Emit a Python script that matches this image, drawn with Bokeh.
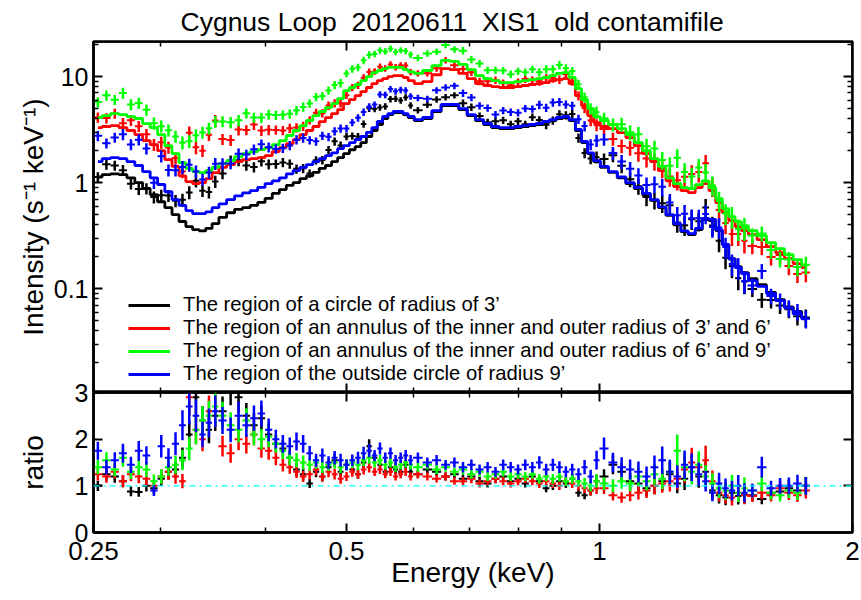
import numpy as np
from bokeh.plotting import figure
from bokeh.models import (FixedTicker, LogAxis, LinearAxis, Range1d, Span, Legend,
                          LegendItem, CustomJSTickFormatter, CustomLabelingPolicy)
from bokeh.layouts import column
from bokeh.embed import file_html
from bokeh.resources import INLINE

# ---------------- data ----------------
# energy bin edges (keV)
edges = [0.250, 0.256, 0.262, 0.268, 0.274, 0.280, 0.286, 0.292, 0.298, 0.304, 0.310, 0.316,
         0.322, 0.328, 0.334, 0.340, 0.346, 0.352,
         0.360, 0.368, 0.376, 0.384, 0.392, 0.400, 0.408, 0.416, 0.424, 0.432, 0.440, 0.448,
         0.456, 0.464, 0.472, 0.480, 0.488, 0.496, 0.504, 0.512, 0.520, 0.528, 0.536, 0.544,
         0.552, 0.560, 0.568, 0.576, 0.584, 0.592, 0.600,
         0.616, 0.632, 0.648, 0.664, 0.680, 0.696, 0.712, 0.728, 0.744, 0.760, 0.776, 0.792,
         0.808, 0.824, 0.840, 0.856, 0.872, 0.888, 0.904, 0.920, 0.936, 0.952, 0.968, 0.984, 1.000,
         1.025, 1.050, 1.075, 1.100, 1.125, 1.150, 1.175, 1.200, 1.225, 1.250, 1.275, 1.300,
         1.325, 1.350, 1.375, 1.400, 1.425, 1.450, 1.475, 1.500,
         1.54, 1.58, 1.62, 1.66, 1.70, 1.74, 1.78]

# model intensity (s^-1 keV^-1) per bin
model_black = [1.13, 1.19, 1.21, 1.19, 1.11, 1.00, 0.88, 0.77, 0.66, 0.58, 0.50, 0.43, 0.385, 0.36, 0.35, 0.37, 0.41,
               0.47, 0.52, 0.56, 0.58, 0.61, 0.65, 0.71, 0.79, 0.86, 0.94, 1.00, 1.09, 1.16, 1.25, 1.36, 1.45,
               1.58, 1.72, 1.88, 2.04, 2.18, 2.38, 2.72, 3.10, 3.53, 4.02, 4.38, 4.58, 4.58, 4.38, 4.11,
               3.85, 4.02, 4.68, 5.33, 5.33, 4.88, 4.29, 3.85, 3.53, 3.30, 3.23, 3.23, 3.30, 3.38, 3.45,
               3.53, 3.69, 3.85, 4.02, 4.11, 3.85, 3.10, 2.38, 1.88, 1.58,
               1.39, 1.25, 1.11, 0.98, 0.88, 0.77, 0.68, 0.58, 0.49, 0.40, 0.345, 0.323, 0.36, 0.448,
               0.438, 0.353, 0.261, 0.192, 0.161, 0.142,
               0.124, 0.109, 0.092, 0.079, 0.0675, 0.061, 0.0536]
model_red = [3.30, 3.38, 3.45, 3.30, 3.10, 2.84, 2.49, 2.28, 2.00, 1.65, 1.42, 1.16, 1.02, 0.98, 1.00, 1.09, 1.24,
             1.39, 1.48, 1.58, 1.65, 1.68, 1.72, 1.80, 1.96, 2.14, 2.33, 2.54, 2.84, 3.10, 3.38, 3.76, 4.10,
             4.48, 4.88, 5.56, 6.07, 6.62, 7.22, 7.88, 8.59, 9.17, 9.57, 10.0, 10.2, 10.2, 9.79, 9.17,
             8.59, 8.97, 10.4, 11.9, 11.6, 10.7, 9.57, 8.59, 8.23, 8.05, 7.88, 7.88, 8.05, 8.23, 8.41,
             8.59, 8.78, 9.17, 9.37, 9.57, 8.59, 6.62, 5.33, 4.29, 3.68,
             3.38, 3.23, 2.96, 2.66, 2.23, 1.88, 1.58, 1.30, 1.04, 0.917, 0.84, 0.805, 0.897, 0.98,
             0.84, 0.648, 0.521, 0.438, 0.385, 0.353,
             0.323, 0.290, 0.249, 0.219, 0.192, 0.172, 0.158]
model_green = [4.10, 4.29, 4.48, 4.38, 4.19, 4.02, 3.60, 3.30, 2.84, 2.23, 1.88, 1.54, 1.36, 1.27, 1.24, 1.30, 1.39,
               1.51, 1.61, 1.76, 1.88, 1.96, 2.05, 2.14, 2.28, 2.49, 2.78, 3.10, 3.45, 3.85, 4.29, 4.68, 5.10,
               5.56, 6.20, 7.38, 7.88, 8.41, 9.17, 10.0, 10.9, 11.4, 11.9, 12.2, 12.2, 12.2, 11.6, 11.1,
               10.7, 11.4, 12.7, 14.2, 13.9, 13.0, 11.6, 10.2, 9.57, 9.17, 8.78, 8.78, 8.97, 9.17, 9.37,
               9.57, 9.79, 10.2, 10.7, 10.9, 9.79, 7.70, 6.07, 4.99, 4.19,
               3.85, 3.53, 3.23, 2.84, 2.38, 2.00, 1.68, 1.42, 1.11, 0.98, 0.897, 0.878, 0.957, 1.04,
               0.897, 0.707, 0.569, 0.478, 0.429, 0.393,
               0.353, 0.316, 0.272, 0.238, 0.209, 0.188, 0.168]
model_blue = [1.58, 1.68, 1.72, 1.68, 1.58, 1.45, 1.27, 1.11, 0.96, 0.82, 0.69, 0.61, 0.545, 0.51, 0.51, 0.53, 0.58,
              0.63, 0.69, 0.75, 0.80, 0.84, 0.90, 0.98, 1.04, 1.11, 1.21, 1.30, 1.39, 1.48, 1.58, 1.68, 1.80,
              1.91, 2.09, 2.23, 2.38, 2.55, 2.72, 2.97, 3.30, 3.77, 4.20, 4.48, 4.68, 4.68, 4.48, 4.20,
              3.93, 4.11, 4.78, 5.45, 5.45, 4.99, 4.38, 3.93, 3.61, 3.38, 3.30, 3.30, 3.38, 3.45, 3.53,
              3.61, 3.77, 3.93, 4.11, 4.20, 3.93, 3.17, 2.44, 1.91, 1.61,
              1.42, 1.27, 1.13, 1.00, 0.90, 0.79, 0.69, 0.59, 0.50, 0.41, 0.35, 0.33, 0.37, 0.46,
              0.45, 0.36, 0.26, 0.19, 0.158, 0.139,
              0.119, 0.105, 0.090, 0.077, 0.066, 0.058, 0.052]

# data / model ratio per bin
ratio_black = [1.00, 1.25, 1.20, 1.10, 0.88, 0.87, 1.00, 0.95, 1.15, 1.30, 1.35, 1.60, 2.10, 2.90, 2.40, 2.20, 2.50,
               2.60, 3.10, 2.90, 2.50, 2.30, 2.45, 2.10, 1.90, 1.80, 1.60, 1.35, 1.25, 1.05, 1.30, 1.20, 1.40,
               1.55, 1.30, 1.45, 1.35, 1.25, 1.50, 1.85, 1.60, 1.45, 1.30, 1.40, 1.35, 1.30, 1.45, 1.30,
               1.25, 1.35, 1.30, 1.20, 1.25, 1.15, 1.20, 1.10, 1.05, 1.15, 1.20, 1.10, 1.15, 1.05, 1.20,
               1.10, 0.95, 1.00, 1.10, 1.05, 1.15, 0.85, 0.80, 0.90, 1.10,
               1.20, 1.45, 1.30, 1.10, 1.05, 0.95, 1.00, 1.10, 1.25, 1.05, 1.15, 1.40, 1.20, 1.30,
               0.90, 0.80, 0.75, 0.85, 0.78, 0.82,
               0.80, 0.72, 0.85, 0.88, 0.95, 0.90, 1.00]
ratio_red = [1.25, 1.20, 1.30, 1.10, 1.25, 1.20, 1.15, 1.00, 1.20, 1.30, 1.20, 1.10, 2.90, 2.20, 2.00, 2.60, 3.10,
             1.85, 1.70, 2.00, 1.90, 2.10, 1.80, 1.75, 1.60, 1.45, 1.40, 1.30, 1.20, 1.25, 1.35, 1.20, 1.30,
             1.25, 1.15, 1.20, 1.30, 1.25, 1.35, 1.40, 1.30, 1.35, 1.25, 1.30, 1.20, 1.25, 1.30, 1.20,
             1.25, 1.20, 1.15, 1.20, 1.10, 1.10, 1.15, 1.05, 1.10, 1.15, 1.10, 1.05, 1.10, 1.15, 1.10,
             1.05, 1.10, 1.05, 1.00, 1.10, 1.05, 1.00, 0.95, 0.90, 0.95,
             0.95, 0.80, 0.75, 0.80, 0.85, 0.90, 1.00, 1.05, 1.10, 1.15, 1.35, 1.50, 1.40, 1.55,
             1.10, 0.85, 0.80, 0.75, 0.85, 0.80,
             0.78, 0.85, 0.80, 0.95, 0.85, 0.80, 0.90]
ratio_green = [1.40, 1.55, 1.35, 1.60, 1.30, 1.40, 1.35, 1.10, 1.20, 1.40, 1.45, 1.55, 1.80, 2.20, 2.40, 2.50, 2.70,
               2.50, 2.30, 2.20, 2.40, 2.10, 2.00, 2.05, 1.90, 1.75, 1.60, 1.55, 1.50, 1.45, 1.50, 1.40, 1.45,
               1.50, 1.40, 1.45, 1.50, 1.45, 1.55, 1.60, 1.50, 1.55, 1.45, 1.50, 1.40, 1.45, 1.50, 1.45,
               1.40, 1.45, 1.35, 1.40, 1.30, 1.35, 1.25, 1.30, 1.20, 1.25, 1.30, 1.20, 1.25, 1.20, 1.25,
               1.15, 1.20, 1.15, 1.20, 1.10, 1.15, 1.10, 1.05, 1.00, 1.10,
               1.05, 1.00, 1.10, 1.05, 1.20, 1.10, 1.25, 1.15, 1.30, 1.75, 1.40, 1.30, 1.45, 1.20,
               1.05, 0.95, 0.90, 1.00, 0.85, 0.95,
               0.90, 1.05, 0.85, 0.80, 0.90, 0.85, 1.00]
ratio_blue = [1.75, 1.40, 1.55, 1.70, 1.45, 1.75, 1.65, 0.90, 1.85, 1.60, 1.90, 2.30, 2.70, 2.50, 2.10, 2.35, 2.60,
              2.40, 2.20, 2.50, 2.30, 2.45, 2.55, 2.20, 2.00, 1.90, 1.85, 1.95, 1.90, 1.70, 1.55, 1.65, 1.50,
              1.60, 1.55, 1.45, 1.55, 1.60, 1.70, 1.75, 1.65, 1.80, 1.60, 1.70, 1.55, 1.60, 1.65, 1.55,
              1.60, 1.50, 1.55, 1.45, 1.50, 1.40, 1.45, 1.35, 1.40, 1.30, 1.45, 1.40, 1.35, 1.45, 1.40,
              1.50, 1.35, 1.45, 1.40, 1.30, 1.35, 1.25, 1.40, 1.20, 1.55,
              1.80, 1.50, 1.40, 1.35, 1.30, 1.20, 1.40, 1.55, 1.30, 1.20, 1.45, 1.40, 1.25, 1.10,
              0.85, 1.05, 0.95, 0.90, 1.00, 0.85,
              0.90, 1.40, 0.95, 1.00, 1.00, 1.05, 1.00]

# relative 1-sigma error per bin
rel_err = [0.11, 0.11, 0.11, 0.12, 0.12, 0.12, 0.12, 0.13, 0.13, 0.13, 0.13, 0.14, 0.14, 0.14, 0.13, 0.13, 0.13,
           0.12, 0.12, 0.12, 0.11, 0.11, 0.11, 0.11, 0.10, 0.10, 0.10, 0.10, 0.10, 0.09, 0.09, 0.09, 0.09,
           0.09, 0.09, 0.08, 0.08, 0.08, 0.08, 0.08, 0.07, 0.07, 0.07, 0.07, 0.07, 0.07, 0.07, 0.07,
           0.07, 0.07, 0.07, 0.07, 0.07, 0.08, 0.08, 0.08, 0.08, 0.08, 0.08, 0.08, 0.08, 0.08, 0.08,
           0.09, 0.09, 0.09, 0.09, 0.09, 0.09, 0.10, 0.11, 0.12, 0.13,
           0.13, 0.14, 0.15, 0.16, 0.17, 0.18, 0.18, 0.19, 0.20, 0.20, 0.21, 0.21, 0.20, 0.20,
           0.21, 0.22, 0.22, 0.23, 0.23, 0.24,
           0.16, 0.16, 0.17, 0.17, 0.18, 0.18, 0.19]

labels = ["The region of a circle of radius of 3\u2019",
          "The region of an annulus of the inner and outer radius of 3\u2019 and 6\u2019",
          "The region of an annulus of the inner and outer radius of 6\u2019 and 9\u2019",
          "The region of the outside circle of radius 9\u2019"]
colors = ["#000000", "#ff0000", "#00ff00", "#0000ff"]

title_text = "Cygnus Loop\u00a0 20120611\u00a0 XIS1\u00a0 old contamifile"
x_major = [0.25, 0.5, 1, 2]
x_minor = [0.3, 0.4, 0.6, 0.7, 0.8, 0.9]
y_major = [0.1, 1, 10]
y_minor = [0.02, 0.03, 0.04, 0.05, 0.06, 0.07, 0.08, 0.09,
           0.2, 0.3, 0.4, 0.5, 0.6, 0.7, 0.8, 0.9,
           2, 3, 4, 5, 6, 7, 8, 9, 20]
r_major = [0, 1, 2, 3]

# ---------------- layout constants ----------------
W = 861
LEFT, RIGHT = 93, 9
TOP_H_FIG, RAT_H_FIG = 392, 222     # figure heights (ratio figure overlaps the top one)
OVERLAP = 14                        # transparent strip of the ratio figure above its frame
Y_LO, Y_HI = 0.0105, 21.4
FONT = "Liberation Sans"

# ---------------- derived ----------------
e = np.array(edges)
lo, hi = e[:-1], e[1:]
ctr = (lo + hi) / 2
err = np.array(rel_err)
models = [np.array(m) for m in (model_black, model_red, model_green, model_blue)]
ratios = [np.array(r) for r in (ratio_black, ratio_red, ratio_green, ratio_blue)]

fmt = CustomJSTickFormatter(code="return tick.toString();")
no_labels = CustomLabelingPolicy(code="""
    const all = [...indices]
    for (const i of all) indices.unset(i)
    return indices
""")


def style_axis(ax, ticks, minor=None, show=True, size="25px"):
    ax.ticker = FixedTicker(ticks=ticks, minor_ticks=minor or [])
    ax.formatter = fmt
    if not show:
        ax.major_label_policy = no_labels
    ax.axis_line_color = "black"
    ax.axis_line_width = 2.5
    ax.major_tick_in = 9
    ax.major_tick_out = 0
    ax.minor_tick_in = 5
    ax.minor_tick_out = 0
    ax.major_tick_line_width = 2
    ax.minor_tick_line_width = 1.5
    ax.major_tick_line_color = "black"
    ax.minor_tick_line_color = "black"
    ax.major_label_text_font = FONT
    ax.major_label_text_color = "black"
    ax.major_label_text_font_size = size
    ax.major_label_standoff = 5
    ax.axis_label_text_font = FONT
    ax.axis_label_text_font_style = "normal"
    ax.axis_label_text_color = "black"
    ax.axis_label_text_font_size = "28px"


# ---------------- top panel ----------------
p1 = figure(width=W, height=TOP_H_FIG, x_axis_type="log", y_axis_type="log",
            x_range=Range1d(0.25, 2.0), y_range=Range1d(Y_LO, Y_HI),
            output_backend="svg", toolbar_location=None,
            min_border_left=LEFT, min_border_right=RIGHT, min_border_top=41, min_border_bottom=0,
            x_axis_location=None, title=title_text)
p1.title.text_font = FONT
p1.title.text_font_size = "26.5px"
p1.title.text_font_style = "normal"
p1.title.text_color = "black"
p1.title.align = "left"
p1.title.offset = 87
p1.title.standoff = 9
p1.grid.visible = False
p1.outline_line_color = "black"
p1.outline_line_width = 2.5

style_axis(p1.yaxis[0], y_major, y_minor)
p1.yaxis[0].axis_label = "Intensity (s\u207b\u00b9 keV\u207b\u00b9)"
p1.yaxis[0].axis_label_standoff = 2
for loc, side in [(Y_HI, "above"), (Y_LO, "below")]:
    a = LogAxis(fixed_location=loc)
    style_axis(a, x_major, x_minor, show=False)
    p1.add_layout(a, side)
a = LogAxis(fixed_location=2.0)
style_axis(a, y_major, y_minor, show=False)
p1.add_layout(a, "right")

# ---------------- ratio panel ----------------
p2 = figure(width=W, height=RAT_H_FIG, x_axis_type="log",
            x_range=p1.x_range, y_range=Range1d(0, 3),
            output_backend="svg", toolbar_location=None,
            min_border_left=LEFT, min_border_right=RIGHT, min_border_top=OVERLAP, min_border_bottom=68,
            margin=(-OVERLAP, 0, 0, 0))
p2.border_fill_alpha = 0
p2.grid.visible = False
p2.outline_line_color = "black"
p2.outline_line_width = 2.5
style_axis(p2.xaxis[0], x_major, x_minor, size="26px")
p2.xaxis[0].major_label_standoff = 9
p2.xaxis[0].axis_label = "Energy (keV)"
p2.xaxis[0].axis_label_standoff = -6
style_axis(p2.yaxis[0], r_major)
p2.yaxis[0].axis_label = "ratio"
p2.yaxis[0].axis_label_standoff = 23
a = LogAxis(fixed_location=3.0)
style_axis(a, x_major, x_minor, show=False)
p2.add_layout(a, "above")
a = LinearAxis(fixed_location=2.0)
style_axis(a, r_major, show=False)
p2.add_layout(a, "right")

p2.add_layout(Span(location=1, dimension="width", line_color="#00ffff",
                   line_dash="dashdot", line_width=1.3))

items = []
for model, ratio, col, lab in zip(models, ratios, colors, labels):
    data = model * ratio
    p1.segment(x0=ctr, y0=data * (1 - err), x1=ctr, y1=data * (1 + err), line_color=col, line_width=2.5)
    p1.segment(x0=lo, y0=data, x1=hi, y1=data, line_color=col, line_width=2)
    r = p1.step(x=ctr, y=model, mode="center", line_color=col, line_width=2.8)
    items.append(LegendItem(label=lab, renderers=[r]))
    p2.segment(x0=ctr, y0=ratio * (1 - err), x1=ctr, y1=ratio * (1 + err), line_color=col, line_width=2.5)
    p2.segment(x0=lo, y0=ratio, x1=hi, y1=ratio, line_color=col, line_width=2)

legend = Legend(items=items, location=(35, 7))
legend.label_text_font = FONT
legend.label_text_font_size = "20.3px"
legend.label_text_color = "black"
legend.glyph_width = 42
legend.glyph_height = 22
legend.label_height = 22
legend.spacing = 0
legend.padding = 0
legend.margin = 0
legend.label_standoff = 13
legend.background_fill_alpha = 0
legend.border_line_alpha = 0
p1.add_layout(legend)

layout = column(p1, p2, spacing=0)
open("out.html", "w").write(file_html(layout, INLINE))
